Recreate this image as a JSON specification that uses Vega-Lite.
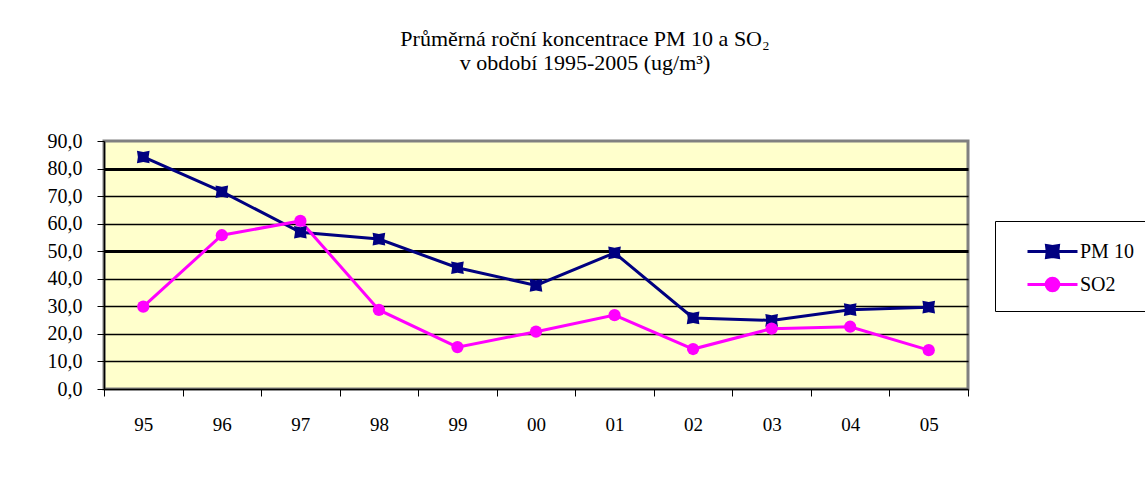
{
  "$schema": "https://vega.github.io/schema/vega-lite/v6.json",
  "autosize": {"type": "none"},
  "width": 864,
  "height": 248,
  "padding": {"left": 104, "top": 141, "right": 177, "bottom": 88},
  "background": "white",
  "title": {
    "text": ["Průměrná roční koncentrace PM 10 a SO₂", "v období 1995-2005 (ug/m³)"],
    "font": "Liberation Serif",
    "fontSize": 22,
    "fontWeight": "normal",
    "color": "black",
    "anchor": "middle",
    "dx": 49,
    "offset": 56,
    "lineHeight": 24
  },
  "config": {
    "view": {"fill": "#FFFFCC", "stroke": "#808080", "strokeWidth": 3},
    "axis": {"labelFont": "Liberation Serif", "labelColor": "black", "tickColor": "black", "domainColor": "black"},
    "legend": {"labelFont": "Liberation Serif", "labelColor": "black"}
  },
  "data": {
    "values": [
      {"rok": "95", "rada": "PM 10", "hodnota": 84.2},
      {"rok": "96", "rada": "PM 10", "hodnota": 71.6},
      {"rok": "97", "rada": "PM 10", "hodnota": 56.9},
      {"rok": "98", "rada": "PM 10", "hodnota": 54.4},
      {"rok": "99", "rada": "PM 10", "hodnota": 44.0},
      {"rok": "00", "rada": "PM 10", "hodnota": 37.6},
      {"rok": "01", "rada": "PM 10", "hodnota": 49.4},
      {"rok": "02", "rada": "PM 10", "hodnota": 25.8},
      {"rok": "03", "rada": "PM 10", "hodnota": 24.9},
      {"rok": "04", "rada": "PM 10", "hodnota": 28.8},
      {"rok": "05", "rada": "PM 10", "hodnota": 29.7},
      {"rok": "95", "rada": "SO2", "hodnota": 29.9},
      {"rok": "96", "rada": "SO2", "hodnota": 55.8},
      {"rok": "97", "rada": "SO2", "hodnota": 61.0},
      {"rok": "98", "rada": "SO2", "hodnota": 28.7},
      {"rok": "99", "rada": "SO2", "hodnota": 15.2},
      {"rok": "00", "rada": "SO2", "hodnota": 20.8},
      {"rok": "01", "rada": "SO2", "hodnota": 26.8},
      {"rok": "02", "rada": "SO2", "hodnota": 14.5},
      {"rok": "03", "rada": "SO2", "hodnota": 21.9},
      {"rok": "04", "rada": "SO2", "hodnota": 22.6},
      {"rok": "05", "rada": "SO2", "hodnota": 14.1}
    ]
  },
  "encoding": {
    "x": {
      "field": "rok", "type": "ordinal", "sort": null,
      "scale": {"paddingInner": 0, "paddingOuter": 0},
      "axis": {"title": null, "labelAngle": 0, "labelFont": "Liberation Serif", "labelFontSize": 19, "tickBand": "extent", "tickSize": 7, "labelPadding": 19, "domainWidth": 1.5, "grid": false}
    },
    "y": {
      "field": "hodnota", "type": "quantitative",
      "scale": {"domain": [0, 90], "nice": false},
      "axis": {
        "title": null,
        "values": [0, 10, 20, 30, 40, 50, 60, 70, 80, 90],
        "labelExpr": "replace(format(datum.value, '.1f'), '.', ',')",
        "labelFont": "Liberation Serif",
        "labelFontSize": 20,
        "tickSize": 7,
        "labelPadding": 15,
        "domainWidth": 1.5,
        "grid": true,
        "gridColor": "black",
        "gridWidth": {"condition": {"test": "datum.value == 50 || datum.value == 80", "value": 3}, "value": 1.3},
        "gridOpacity": {"condition": {"test": "datum.value == 90 || datum.value == 0", "value": 0}, "value": 1}
      }
    },
    "color": {
      "field": "rada", "type": "nominal",
      "scale": {"domain": ["PM 10", "SO2"], "range": ["#000080", "#FF00FF"]},
      "legend": {
        "title": null,
        "orient": "none",
        "legendX": 891,
        "legendY": 80,
        "strokeColor": "black",
        "fillColor": "white",
        "padding": 14,
        "symbolSize": 900,
        "symbolStrokeWidth": 3,
        "symbolOffset": 27,
        "labelOffset": 11,
        "labelFont": "Liberation Serif",
        "labelFontSize": 20,
        "rowPadding": 4,
        "encode": {
          "symbols": {
            "update": {
              "shape": {"signal": "datum.value === 'PM 10' ? 'M-1.667,0H1.667M-0.4,-0.4L0,-0.33L0.4,-0.4L0.35,0L0.4,0.4L0,0.33L-0.4,0.4L-0.35,0Z' : 'M-1.667,0H1.667M0.42,0A0.42,0.42,0,1,1,-0.42,0A0.42,0.42,0,1,1,0.42,0Z'"},
              "fill": {"signal": "datum.value === 'PM 10' ? '#000080' : '#FF00FF'"},
              "stroke": {"signal": "datum.value === 'PM 10' ? '#000080' : '#FF00FF'"}
            }
          }
        }
      }
    }
  },
  "layer": [
    {
      "mark": {"type": "line", "strokeWidth": 3}
    },
    {
      "transform": [{"filter": "datum.rada === 'PM 10'"}],
      "mark": {"type": "point", "filled": true, "size": 160, "opacity": 1, "shape": "M-1,-1L0,-0.8L1,-1L0.85,0L1,1L0,0.8L-1,1L-0.85,0Z"}
    },
    {
      "transform": [{"filter": "datum.rada === 'SO2'"}],
      "mark": {"type": "point", "filled": true, "size": 150, "opacity": 1, "shape": "circle"}
    }
  ]
}
